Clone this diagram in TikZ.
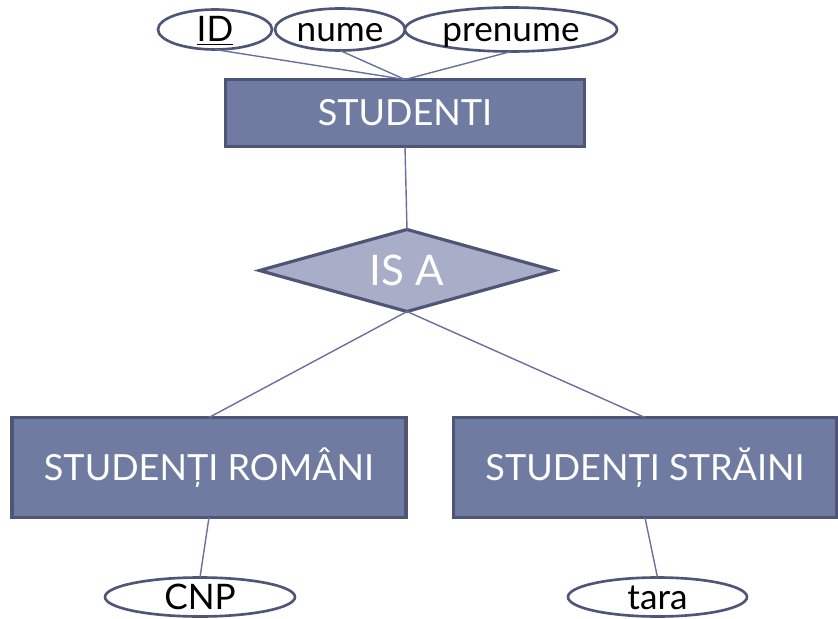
\documentclass[tikz,border=0pt]{standalone}
\usepackage{fontspec}
\setmainfont{Lato}
\usetikzlibrary{shapes,positioning}

\definecolor{entfill}{RGB}{112,123,162}
\definecolor{entdraw}{RGB}{78,85,118}
\definecolor{relfill}{RGB}{168,174,200}
\definecolor{linkcol}{RGB}{104,113,158}

\begin{document}
\begin{tikzpicture}[node distance=1.5cm, auto]

% Define styles
\tikzstyle{entity} = [rectangle, outer sep=0pt, minimum height=1.34cm, text centered, draw=entdraw, fill=entfill, line width=1.8pt, text=white, font=\fontsize{20.5}{24}\selectfont]
\tikzstyle{relation} = [diamond, aspect=3.6, inner sep=0pt, outer sep=0pt, minimum width=5.9cm, minimum height=1.64cm, draw=entdraw, fill=relfill, line width=1.8pt, text=white, font=\fontsize{24}{28}\selectfont]
\tikzstyle{attrib} = [ellipse, inner sep=0pt, outer sep=0pt, text height=14pt, text depth=0pt, minimum height=0.8cm, draw=entdraw, fill=white, line width=1.5pt, font=\fontsize{20}{24}\selectfont, execute at begin node={\hbox to 0pt\bgroup\hss}, execute at end node={\hss\egroup}]
\tikzstyle{link} = [linkcol, line width=0.8pt]

\useasboundingbox (-8.1,-10.12) rectangle (8.66,2.26);

% ENTITY
\node (studenti) [entity, minimum width=7.18cm] {STUDENTI};

% Attributes of STUDENTI
\node (id) [attrib, minimum width=2.28cm, above=0.6cm of studenti, xshift=-3.8cm] {\underline{ID}};
\node (nume) [attrib, minimum width=2.6cm, minimum height=0.84cm, above=0.58cm of studenti, xshift=-1.3cm] {nume};
\node (prenume) [attrib, minimum width=4.24cm, minimum height=0.88cm, above=0.56cm of studenti, xshift=2.12cm] {prenume};

\draw [link] (id.south) -- (studenti.north);
\draw [link] (nume.south) -- (studenti.north);
\draw [link] (prenume.south) -- (studenti.north);

% IS A
\node (isa) [relation, below=1.66cm of studenti, xshift=0.04cm] {IS A};
\draw [link] (studenti.south) -- (isa.north);

% SUBCLASSES
\node (romani) [entity, minimum width=7.88cm, minimum height=2cm, below=2.12cm of isa, xshift=-3.96cm] {STUDENȚI ROMÂNI};
\node (straini) [entity, minimum width=7.66cm, minimum height=2cm, below=2.12cm of isa, xshift=4.76cm] {STUDENȚI STRĂINI};

\draw [link] (isa.south) -- (romani.north);
\draw [link] (isa.south) -- (straini.north);

% Attributes of the subclasses
\node (cnp) [attrib, minimum width=3.8cm, minimum height=0.78cm, below=1.2cm of romani, xshift=-0.18cm] {CNP};
\node (tara) [attrib, minimum width=3.58cm, minimum height=0.78cm, below=1.2cm of straini, xshift=0.25cm] {tara};

\draw [link] (romani.south) -- (cnp.north);
\draw [link] (straini.south) -- (tara.north);

\end{tikzpicture}
\end{document}
